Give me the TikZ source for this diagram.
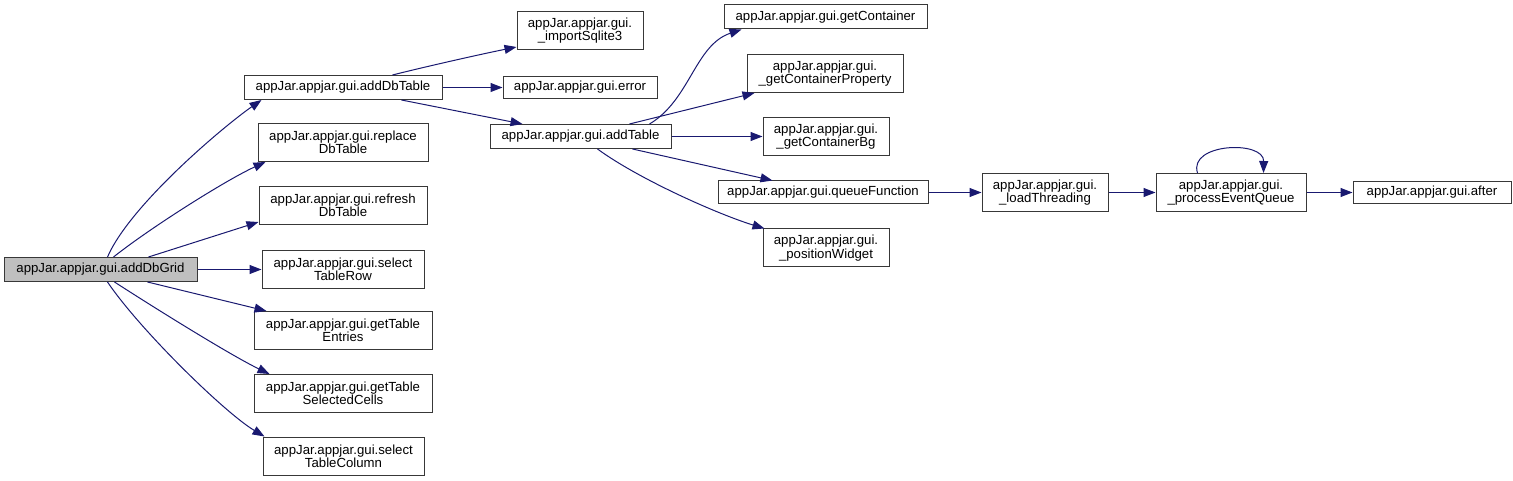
\documentclass[tikz,border=0pt]{standalone}
\usepackage{fontspec}
\setmainfont{Liberation Sans}
\usetikzlibrary{arrows.meta,calc}
\definecolor{edgeblue}{HTML}{191970}
\definecolor{boxline}{HTML}{383838}
\definecolor{boxfill}{HTML}{BFBFBF}
\tikzset{
  box/.style={draw=boxline, fill=white, line width=1pt, inner sep=0pt, align=center,
    font=\fontsize{13.2}{13.2}\selectfont},
  b1/.style={box, minimum height=23pt},
  b2/.style={box, minimum height=38pt},
  edge/.style={draw=edgeblue, line width=1pt, -{Triangle[length=12pt,width=9pt]}},
}
\begin{document}
\begin{tikzpicture}[x=1pt,y=-1pt]
\useasboundingbox (0,0) rectangle (1513,481);
% nodes
\node[b1, fill=boxfill, minimum width=193pt, minimum height=24pt] (grid) at (100.5,269.5) {appJar.appjar.gui.addDbGrid};
\node[b1, minimum width=198pt, minimum height=24pt] (adddbt) at (343,87.5) {appJar.appjar.gui.addDbTable};
\node[b2, minimum width=170pt] (repl) at (343,142.5) {appJar.appjar.gui.replace\\DbTable};
\node[b2, minimum width=168pt] (refr) at (343,205.5) {appJar.appjar.gui.refresh\\DbTable};
\node[b2, minimum width=162pt] (selrow) at (343,269.5) {appJar.appjar.gui.select\\TableRow};
\node[b2, minimum width=178pt] (entries) at (343,330.5) {appJar.appjar.gui.getTable\\Entries};
\node[b2, minimum width=178pt] (cells) at (343,393.5) {appJar.appjar.gui.getTable\\SelectedCells};
\node[b2, minimum width=161pt] (selcol) at (343.5,456) {appJar.appjar.gui.select\\TableColumn};
\node[b2, minimum width=126pt] (sqlite) at (580,30.5) {appJar.appjar.gui.\\\_importSqlite3};
\node[b1, minimum width=154pt, minimum height=22pt] (error) at (580,87.5) {appJar.appjar.gui.error};
\node[b1, minimum width=181pt, minimum height=24pt] (addt) at (580.5,136.5) {appJar.appjar.gui.addTable};
\node[b1, minimum width=203pt, minimum height=24pt] (getc) at (825.5,17) {appJar.appjar.gui.getContainer};
\node[b2, minimum width=156pt] (getcp) at (825,73.5) {appJar.appjar.gui.\\\_getContainerProperty};
\node[b2, minimum width=126pt] (getcbg) at (826,136.5) {appJar.appjar.gui.\\\_getContainerBg};
\node[b1, minimum width=210pt] (queue) at (823,192.5) {appJar.appjar.gui.queueFunction};
\node[b2, minimum width=126pt] (posw) at (826,248) {appJar.appjar.gui.\\\_positionWidget};
\node[b2, minimum width=126pt] (loadt) at (1045,192.5) {appJar.appjar.gui.\\\_loadThreading};
\node[b2, minimum width=150pt] (proc) at (1231,192.5) {appJar.appjar.gui.\\\_processEventQueue};
\node[b1, minimum width=158pt, minimum height=22pt] (after) at (1432,192.5) {appJar.appjar.gui.after};
% edges from addDbGrid
\draw[edge] ($(grid.north west)+(104,0)$) .. controls (130,205) and (224,126) .. ($(adddbt.south west)+(18,0)$);
\draw[edge] ($(grid.north west)+(110,0)$) .. controls (150,228) and (226,180) .. ($(repl.south west)+(8,0)$);
\draw[edge] ($(grid.north west)+(145,0)$) -- ($(refr.south west)+(0,-3)$);
\draw[edge] (grid.east) -- (selrow.west);
\draw[edge] ($(grid.south west)+(144,0)$) -- ($(entries.north west)+(13,0)$);
\draw[edge] ($(grid.south west)+(111,0)$) .. controls (150,305) and (230,355) .. ($(cells.north west)+(16,0)$);
\draw[edge] ($(grid.south west)+(104,0)$) .. controls (140,330) and (225,413) .. ($(selcol.north west)+(2,0)$);
% edges from addDbTable
\draw[edge] ($(adddbt.north west)+(149,0)$) .. controls (420,68) and (477,55) .. ($(sqlite.south west)+(0,-3)$);
\draw[edge] (adddbt.east) -- (error.west);
\draw[edge] ($(adddbt.south west)+(158,0)$) -- ($(addt.north west)+(33,0)$);
% edges from addTable
\draw[edge] ($(addt.north west)+(160,0)$) .. controls (690,100) and (695,45) .. ($(getc.south west)+(18,0)$);
\draw[edge] ($(addt.north west)+(140,0)$) -- ($(getcp.south west)+(8,0)$);
\draw[edge] (addt.east) -- (getcbg.west);
\draw[edge] ($(addt.south west)+(143,0)$) -- ($(queue.north west)+(55,0)$);
\draw[edge] ($(addt.south west)+(108,0)$) .. controls (640,180) and (720,215) .. ($(posw.north west)+(2,0)$);
% chain
\draw[edge] (queue.east) -- (loadt.west);
\draw[edge] (loadt.east) -- (proc.west);
\draw[edge] (proc.east) -- (after.west);
\draw[edge] ($(proc.north west)+(42,0)$) .. controls (1188,143) and (1264,140) .. ($(proc.north west)+(108,0)$);
\end{tikzpicture}
\end{document}
